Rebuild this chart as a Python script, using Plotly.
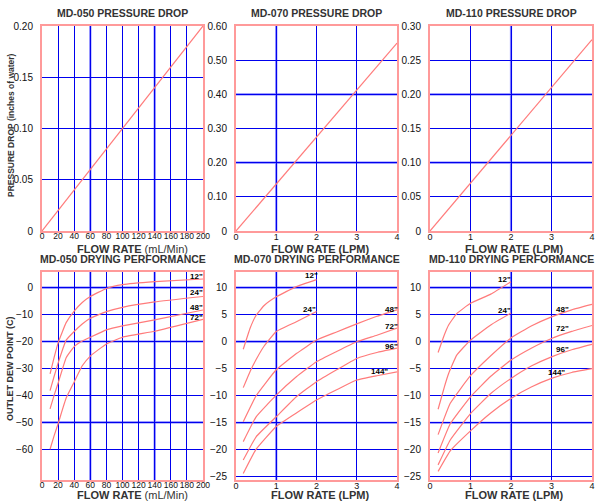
import plotly.graph_objects as go

# ---------------- data ----------------
# Pressure drop panels (flow -> inches of water)
pd050_flow = [0, 200]
pd050_drop = [0.0, 0.20]
pd070_flow = [0, 4]
pd070_drop = [0.0, 0.55]
pd110_flow = [0, 4]
pd110_drop = [0.0, 0.28]

# MD-050 drying performance (mL/Min -> dew point C)
dp050_flow = [10, 15, 20, 30, 40, 50, 60, 80, 100, 140, 200]
dp050_12 = [-32, -26, -20.5, -13, -8.7, -5.5, -3.3, -0.3, 1.1, 2.2, 3.2]
dp050_24 = [-38.2, -33, -28, -19.5, -16.3, -13.5, -11.4, -8.9, -7.3, -5.3, -3.3]
dp050_48 = [-45, -40, -35.5, -26, -21.9, -19.8, -18.4, -15.7, -14.2, -12, -8.3]
dp050_72 = [-60, -55, -50.5, -41, -35, -29, -25.4, -20.9, -18.4, -16.2, -11.8]
dp050_tags = ['12"', '24"', '48"', '72"']
dp050_tag_x = [192, 192, 192, 192]
dp050_tag_y = [4.3, -1.9, -7.3, -11.2]

# MD-070 drying performance (LPM -> dew point C)
dp070_short_flow = [0.18, 0.35, 0.5, 0.7, 1.0, 1.5, 2.0]
dp070_12 = [-1.4, 2.5, 4.9, 6.7, 8.3, 10.2, 11.5]
dp070_24 = [-8.5, -5.5, -3.3, -0.8, 1.9, 3.7, 5.6]
dp070_long_flow = [0.18, 0.5, 1.0, 1.5, 2.0, 2.5, 3.0, 3.5, 4.0]
dp070_48 = [-14.8, -10.0, -5.2, -2.2, 0.3, 1.8, 3.3, 4.7, 5.9]
dp070_72 = [-18.5, -13.9, -9.9, -6.5, -3.7, -1.8, 0.0, 1.2, 2.5]
dp070_96 = [-21.9, -17.6, -13.9, -10.2, -7.4, -5.2, -3.1, -2.0, -1.2]
dp070_144 = [-24.4, -19.9, -15.7, -13.2, -10.8, -8.9, -7.1, -6.3, -5.6]
dp070_tags = ['12"', '24"', '48"', '72"', '96"', '144"']
dp070_tag_x = [1.88, 1.83, 3.86, 3.86, 3.86, 3.57]
dp070_tag_y = [12.3, 5.9, 6.0, 2.9, -0.8, -5.6]

# MD-110 drying performance (LPM -> dew point C)
dp110_short_flow = [0.2, 0.35, 0.46, 0.66, 1.0, 1.5, 2.0]
dp110_12 = [-2.0, 1.2, 3.1, 5.2, 7.1, 8.8, 11.1]
dp110_24 = [-12.5, -8.5, -5.9, -2.5, 0.3, 3.1, 5.3]
dp110_long_flow = [0.2, 0.5, 1.0, 1.5, 2.0, 2.5, 3.0, 3.5, 4.0]
dp110_48 = [-17.2, -11.4, -6.3, -2.6, 0.7, 2.9, 4.6, 5.9, 6.9]
dp110_72 = [-20.6, -15.2, -10.2, -6.4, -3.4, -1.2, 0.6, 1.9, 3.0]
dp110_96 = [-22.8, -18.2, -13.3, -9.6, -6.8, -4.5, -2.8, -1.5, -0.5]
dp110_144 = [-24.0, -20.2, -16.5, -13.2, -10.5, -8.4, -6.8, -5.7, -5.0]
dp110_tags = ['12"', '24"', '48"', '72"', '96"', '144"']
dp110_tag_x = [1.85, 1.85, 3.27, 3.27, 3.27, 3.12]
dp110_tag_y = [11.5, 5.7, 6.0, 2.5, -1.4, -5.7]

titles = ["MD-050 PRESSURE DROP", "MD-070 PRESSURE DROP", "MD-110 PRESSURE DROP",
          "MD-050 DRYING PERFORMANCE", "MD-070 DRYING PERFORMANCE", "MD-110 DRYING PERFORMANCE"]

# gridlines that appear heavier (lighter blue, thicker) in the reference, per panel
heavy_x = [[60, 140], [1], [2], [60, 140], [1], [2]]
heavy_y = [[], [0.2, 0.4], [0.1, 0.2], [0, -20, -50], [10, 0, -15], [10, 0, -15]]

# ---------------- styling ----------------
W, H = 600, 502
LINE = "#ff7b7b"
GRID = "#0000ee"
HEAVY = "#7c7cff"
FRAME = "#ff9a9a"
FONT = "Liberation Sans, Arial, sans-serif"

# pixel boxes of the plot areas: (left, right, top, bottom)
boxes = [(42, 203, 26, 231), (236, 397, 26, 231), (430, 592, 26, 231),
         (42, 203, 272, 480), (236, 397, 272, 480), (430, 592, 272, 480)]

fig = go.Figure()

def add_line(i, x, y):
    s = "" if i == 1 else str(i)
    fig.add_trace(go.Scatter(x=x, y=y, mode="lines", xaxis="x" + s, yaxis="y" + s,
                             line=dict(color=LINE, width=1.2, shape="spline", smoothing=0.35),
                             showlegend=False, hoverinfo="skip"))

add_line(1, pd050_flow, pd050_drop)
add_line(2, pd070_flow, pd070_drop)
add_line(3, pd110_flow, pd110_drop)
for ys in (dp050_12, dp050_24, dp050_48, dp050_72):
    add_line(4, dp050_flow, ys)
for ys in (dp070_12, dp070_24):
    add_line(5, dp070_short_flow, ys)
for ys in (dp070_48, dp070_72, dp070_96, dp070_144):
    add_line(5, dp070_long_flow, ys)
for ys in (dp110_12, dp110_24):
    add_line(6, dp110_short_flow, ys)
for ys in (dp110_48, dp110_72, dp110_96, dp110_144):
    add_line(6, dp110_long_flow, ys)

def fmt2(v):
    return "0" if v == 0 else f"{v:.2f}"

def fmtneg(v):
    return str(v).replace("-", "\u2212")

axes_cfg = [
    dict(xr=[0, 200], xt=list(range(0, 201, 20)), yr=[0, 0.20], yt=[0, 0.05, 0.10, 0.15, 0.20], yfmt=fmt2),
    dict(xr=[0, 4], xt=[0, 1, 2, 3, 4], yr=[0, 0.60], yt=[0, 0.1, 0.2, 0.3, 0.4, 0.5, 0.6], yfmt=fmt2),
    dict(xr=[0, 4], xt=[0, 1, 2, 3, 4], yr=[0, 0.30], yt=[0, 0.05, 0.10, 0.15, 0.20, 0.25, 0.30], yfmt=fmt2),
    dict(xr=[0, 200], xt=list(range(0, 201, 20)), yr=[-71.4, 5.8], yt=[-60, -50, -40, -30, -20, -10, 0], yfmt=fmtneg),
    dict(xr=[0, 4], xt=[0, 1, 2, 3, 4], yr=[-25.6, 12.9], yt=[-25, -20, -15, -10, -5, 0, 5, 10], yfmt=fmtneg),
    dict(xr=[0, 4], xt=[0, 1, 2, 3, 4], yr=[-25.6, 12.9], yt=[-25, -20, -15, -10, -5, 0, 5, 10], yfmt=fmtneg),
]

layout = dict(width=W, height=H, margin=dict(l=0, r=0, t=0, b=0, autoexpand=False),
              paper_bgcolor="white", plot_bgcolor="white",
              font=dict(family=FONT, color="#111", size=10), showlegend=False)

annotations = []
shapes = []
for i, (cfg, box) in enumerate(zip(axes_cfg, boxes), start=1):
    s = "" if i == 1 else str(i)
    l, r, t, b = box
    xd = [l / W, r / W]
    yd = [1 - b / H, 1 - t / H]
    bottom_row = i > 3
    xfs = 8.5 if cfg["xr"][1] == 200 else 9
    layout["xaxis" + s] = dict(domain=xd, range=cfg["xr"], anchor="y" + s, automargin=False,
                               tickvals=cfg["xt"], ticktext=[str(v) for v in cfg["xt"]], tickangle=0,
                               showgrid=True, gridcolor=GRID, gridwidth=1, zeroline=False,
                               showline=True, mirror=True, linecolor=FRAME, linewidth=2,
                               ticks="", ticklabelstandoff=-4,
                               tickfont=dict(size=xfs, color="#111"), fixedrange=True)
    layout["yaxis" + s] = dict(domain=yd, range=cfg["yr"], anchor="x" + s, automargin=False,
                               tickvals=cfg["yt"], ticktext=[cfg["yfmt"](v) for v in cfg["yt"]],
                               showgrid=True, gridcolor=GRID, gridwidth=1, zeroline=False,
                               showline=True, mirror=True, linecolor=FRAME, linewidth=2,
                               ticks="outside", ticklen=5, tickcolor="rgba(0,0,0,0)",
                               tickfont=dict(size=10, color="#111"), fixedrange=True)
    for hx in heavy_x[i - 1]:
        shapes.append(dict(type="line", xref="x" + s, yref="y" + s + " domain", x0=hx, x1=hx, y0=0, y1=1,
                           line=dict(color=HEAVY, width=2.2), layer="below"))
    for hy in heavy_y[i - 1]:
        shapes.append(dict(type="line", xref="x" + s + " domain", yref="y" + s, x0=0, x1=1, y0=hy, y1=hy,
                           line=dict(color=HEAVY, width=2.2), layer="below"))
    # title
    annotations.append(dict(text="<b>" + titles[i - 1] + "</b>", xref="paper", yref="paper",
                            x=(l + r) / 2 / W, y=1 - (t - 13) / H, showarrow=False,
                            xanchor="center", yanchor="middle",
                            font=dict(size=10.5, color="#333", family=FONT)))
    # x axis title
    xt = "<b>FLOW RATE</b> (mL/Min)" if i in (1, 4) else "<b>FLOW RATE (LPM)</b>"
    off = 18 if not bottom_row else 15
    annotations.append(dict(text=xt, xref="paper", yref="paper",
                            x=((l + r) / 2 + (10 if i in (1, 4) else 3)) / W, y=1 - (b + off) / H,
                            showarrow=False, xanchor="center", yanchor="middle",
                            font=dict(size=11, color="#333", family=FONT)))

annotations.append(dict(text="<b>PRESSURE DROP (inches of water)</b>", xref="paper", yref="paper",
                        x=11 / W, y=1 - 125 / H, textangle=-90, showarrow=False,
                        xanchor="center", yanchor="middle", font=dict(size=8.5, color="#333", family=FONT)))
annotations.append(dict(text="<b>OUTLET DEW POINT (C)</b>", xref="paper", yref="paper",
                        x=10 / W, y=1 - 369 / H, textangle=-90, showarrow=False,
                        xanchor="center", yanchor="middle", font=dict(size=9, color="#333", family=FONT)))

for ax, tags, tx, ty in ((4, dp050_tags, dp050_tag_x, dp050_tag_y),
                         (5, dp070_tags, dp070_tag_x, dp070_tag_y),
                         (6, dp110_tags, dp110_tag_x, dp110_tag_y)):
    for tg, x, y in zip(tags, tx, ty):
        annotations.append(dict(text="<b>" + tg + "</b>", xref="x" + str(ax), yref="y" + str(ax),
                                x=x, y=y, showarrow=False, xanchor="center", yanchor="middle",
                                font=dict(size=8, color="#000", family=FONT)))

layout["annotations"] = annotations
layout["shapes"] = shapes
fig.update_layout(**layout)
fig.write_html("out.html", config={"displayModeBar": False},
               post_script="document.body.style.margin='0';document.body.style.padding='0';")
